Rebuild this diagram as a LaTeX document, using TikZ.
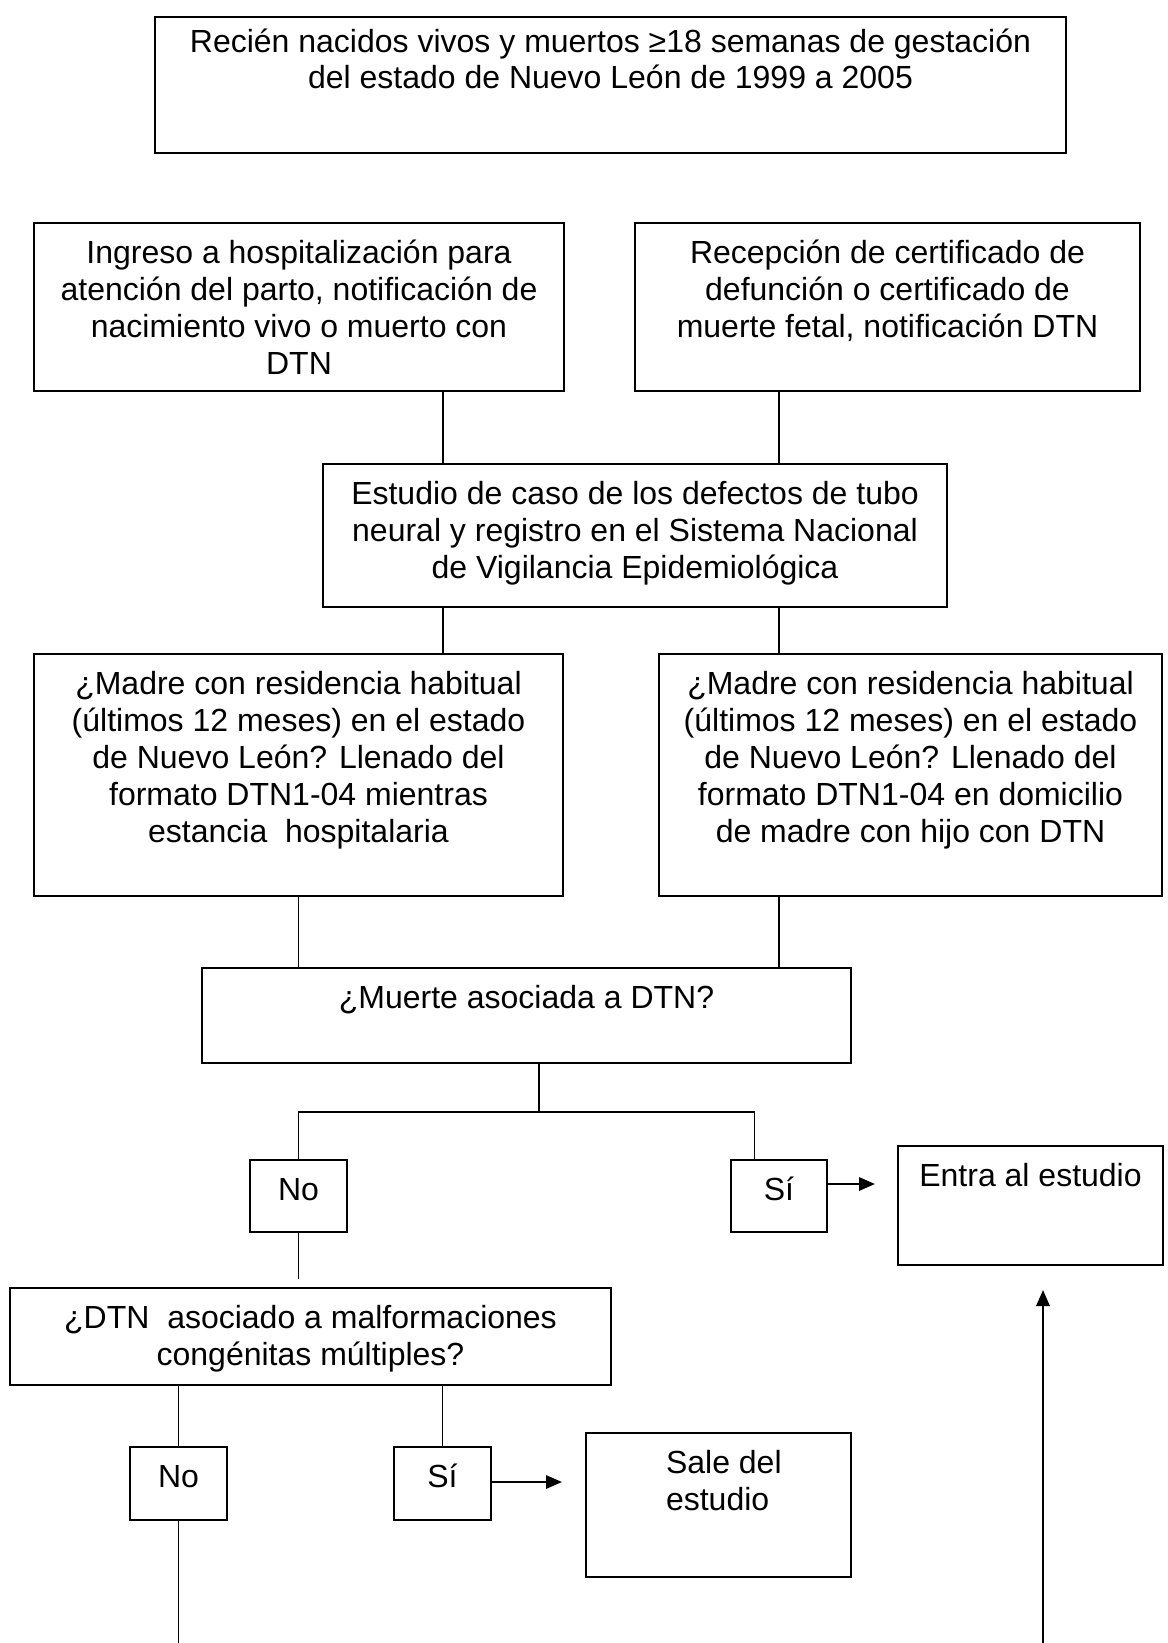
\documentclass[tikz,border=0pt]{standalone}
\usepackage{fontspec}
\setmainfont{Liberation Sans}
\usetikzlibrary{arrows.meta,positioning,fit}

\begin{document}
\begin{tikzpicture}[x=0.375pt,y=-0.375pt,line width=0.6pt,
  every node/.style={font=\fontsize{12}{13.8}\selectfont},
  box/.style={draw,inner sep=0pt},
  txt/.style={inner sep=0pt,align=center},
  arr/.style={line width=0.8pt,-{Triangle[length=6pt,width=5pt]}}]
  \useasboundingbox (0,0) rectangle (1167,1643);
  % Boxes are fitted to their corners; the text hangs from each top edge.
  \node[box,fit={(155,17)(1066,153)}] (pob) {};
  \node[box,fit={(34,223)(564,391)}] (ingreso) {};
  \node[box,fit={(635,223)(1140,391)}] (recep) {};
  \node[box,fit={(323,464)(947,607)}] (estudio) {};
  \node[box,fit={(34,654)(563,896)}] (madreL) {};
  \node[box,fit={(659,654)(1162,896)}] (madreR) {};
  \node[box,fit={(202,968)(851,1063)}] (muerte) {};
  \node[box,fit={(250,1160)(347,1232)}] (noA) {};
  \node[box,fit={(731,1160)(827,1232)}] (siA) {};
  \node[box,fit={(898,1146)(1163,1265)}] (entra) {};
  \node[box,fit={(10,1288)(611,1385)}] (malf) {};
  \node[box,fit={(130,1447)(227,1520)}] (noB) {};
  \node[box,fit={(394,1447)(491,1520)}] (siB) {};
  \node[box,fit={(586,1433)(851,1577)}] (sale) {};

  \node[txt,below=3.5pt of pob.north] (pobT) {\strut Recién nacidos vivos y muertos ≥18 semanas de gestación\\del estado de Nuevo León de 1999 a 2005};
  \node[txt,below=5.7pt of ingreso.north] (ingresoT) {\strut Ingreso a hospitalización para\\atención del parto, notificación de\\nacimiento vivo o muerto con\\DTN};
  \node[txt,below=5.7pt of recep.north] (recepT) {\strut Recepción de certificado de\\defunción o certificado de\\muerte fetal, notificación DTN};
  \node[txt,below=5.7pt of estudio.north] (estudioT) {\strut Estudio de caso de los defectos de tubo\\neural y registro en el Sistema Nacional\\de Vigilancia Epidemiológica};
  \node[txt,below=5.7pt of madreL.north] (madreLT) {\strut ¿Madre con residencia habitual\\(últimos 12 meses) en el estado\\de Nuevo León? Llenado del\\formato DTN1-04 mientras\\estancia~ hospitalaria};
  \node[txt,below=5.7pt of madreR.north] (madreRT) {\strut ¿Madre con residencia habitual\\(últimos 12 meses) en el estado\\de Nuevo León? Llenado del\\formato DTN1-04 en domicilio\\de madre con hijo con DTN};
  \node[txt,below=5.7pt of muerte.north] (muerteT) {\strut ¿Muerte asociada a DTN?};
  \node[txt,below=5.7pt of noA.north] (noAT) {\strut No};
  \node[txt,below=5.7pt of siA.north] (siAT) {\strut Sí};
  \node[txt,below=5.7pt of entra.north] (entraT) {\strut Entra al estudio};
  \node[txt,below=5.7pt of malf.north] (malfT) {\strut ¿DTN~ asociado a malformaciones\\congénitas múltiples?};
  \node[txt,below=5.7pt of noB.north] (noBT) {\strut No};
  \node[txt,below=5.7pt of siB.north] (siBT) {\strut Sí};
  \node[txt,align=left,below=5.7pt of sale.north,xshift=2pt] (saleT) {\strut Sale del\\estudio};

  \coordinate (lnL) at (443,0); \coordinate (lnR) at (779,0);
  \coordinate (lnSi) at (754.5,0); \coordinate (split) at (539,1112);
  \coordinate (noEnd) at (298.5,1279); \coordinate (tipA) at (875,1184);
  \coordinate (tipB) at (562,1482);
  \coordinate (noFoot) at (178.5,1643); \coordinate (upFoot) at (1043,1643);
  \coordinate (upTip) at (1043,1290);

  \draw (ingreso.south -| lnL) -- (estudio.north -| lnL);
  \draw (recep.south -| lnR) -- (estudio.north -| lnR);
  \draw (estudio.south -| lnL) -- (madreL.north -| lnL);
  \draw (estudio.south -| lnR) -- (madreR.north -| lnR);
  \draw (madreL.south) -- (muerte.north -| madreL.south);
  \draw (madreR.south -| lnR) -- (muerte.north -| lnR);
  \draw (muerte.south -| split) -- (split);
  \draw (noA.north) |- (split) -| (siA.north -| lnSi);
  \draw (noA.south) -- (noEnd);
  \draw[arr] (siA.east |- tipA) -- (tipA);
  \draw (malf.south -| noB.north) -- (noB.north);
  \draw (malf.south -| siB.north) -- (siB.north);
  \draw[arr] (siB.east |- tipB) -- (tipB);
  \draw (noB.south) -- (noFoot);
  \draw[arr] (upFoot) -- (upTip);
\end{tikzpicture}
\end{document}
